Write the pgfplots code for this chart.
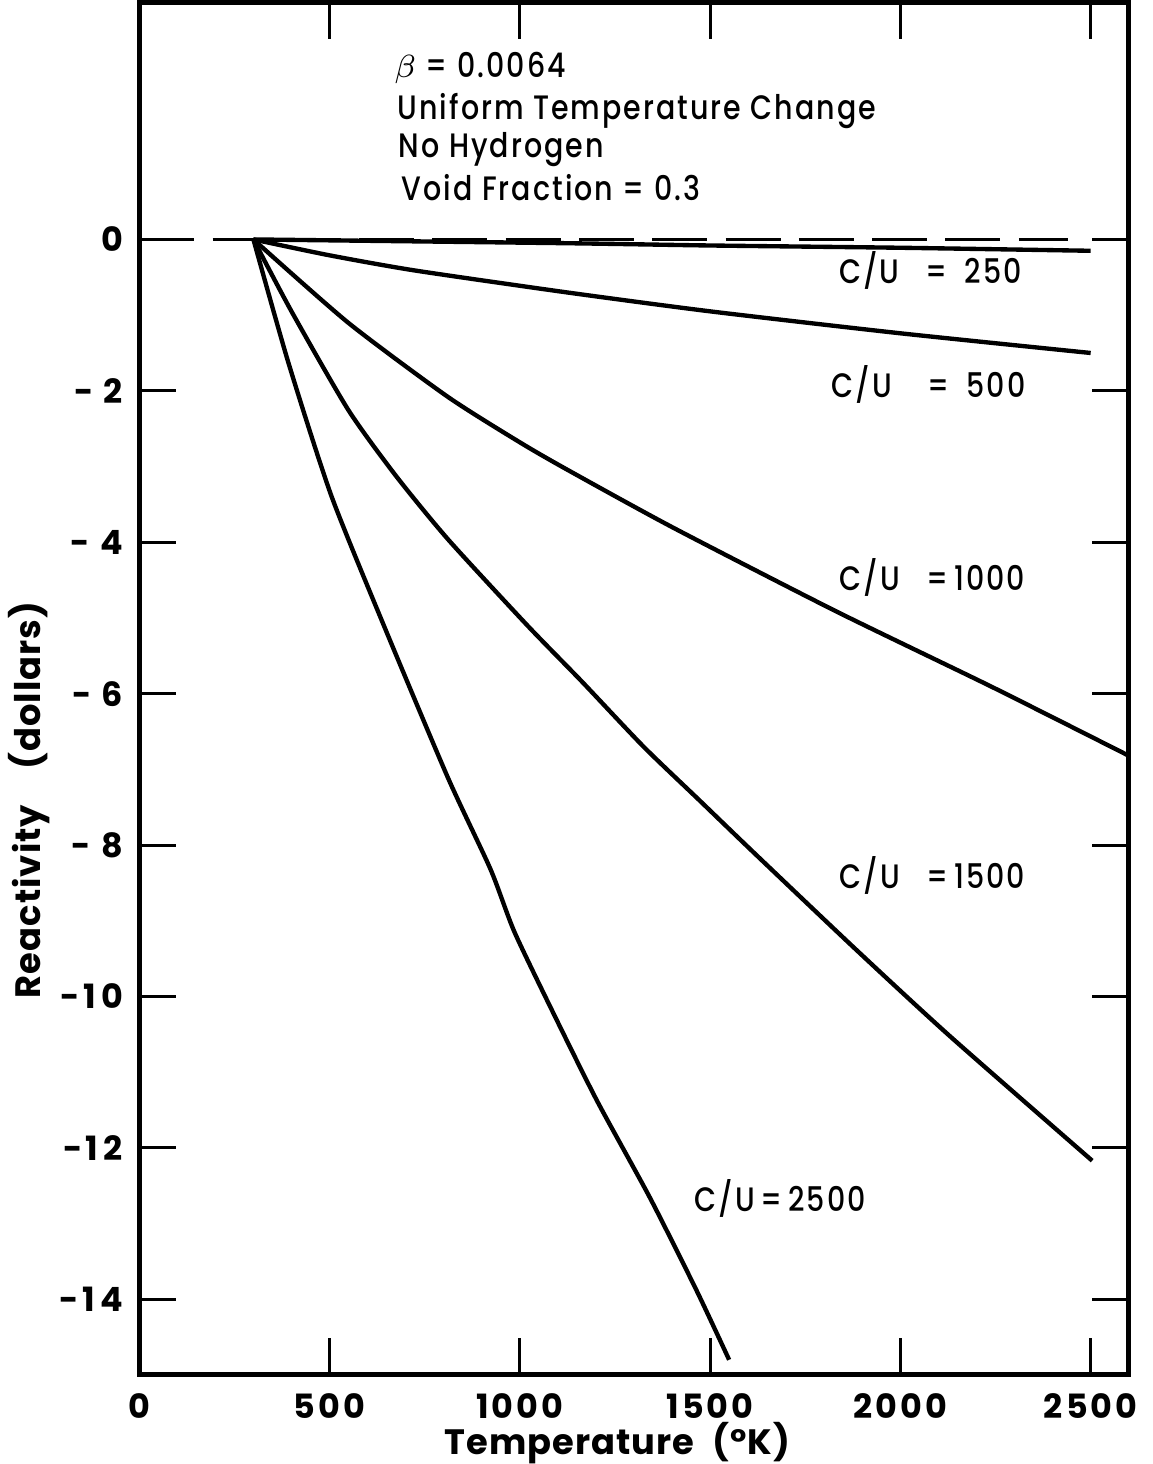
\documentclass[border=0pt]{standalone}
\usepackage{fontspec}
\setmainfont{Poppins}
\newfontfamily\annfont{Poppins Medium}[FakeStretch=0.84,LetterSpace=6]
\newfontfamily\tickfont{Poppins}[LetterSpace=9]
\newfontfamily\labfont{Poppins}[LetterSpace=3]
\usepackage{pgfplots}
\pgfplotsset{compat=1.18}
\tikzset{
  curve/.style={black,line width=0.95pt,mark=none,smooth,tension=0.4},
  lab/.style={font=\annfont\fontsize{7.4}{8}\selectfont,inner sep=0pt},
}

\begin{document}
\begin{tikzpicture}
\begin{axis}[
  scale only axis, width=216pt, height=299.6pt,
  xmin=0, xmax=2600, ymin=-15, ymax=3.13,
  xtick={0,500,...,2500}, ytick={-14,-12,...,0},
  xticklabels={0,500,1000,1500,2000,2500},
  yticklabels={-1\,4,-1\,2,-1\,0,- 8,- 6,- 4,- 2,0},
  tick align=inside, major tick length=8pt,
  tick style={line width=0.65pt,black},
  axis line style={line width=1.1pt},
  ticklabel style={font=\tickfont\fontsize{7.3}{8}\selectfont\bfseries},
  xticklabel style={yshift=-0.5pt},
  label style={font=\labfont\fontsize{7.7}{9}\selectfont\bfseries,inner sep=0pt},
  xlabel={Temperature\enspace(°K)},
  ylabel={Reactivity\quad(dollars)},
  xlabel style={at={(axis description cs:0.483,0)},anchor=base,yshift=-17.4pt},
  ylabel style={at={(axis description cs:-0.111,0.419)},anchor=center},
  clip=false,
]
% reference line at zero
\addplot[black,mark=none,dash pattern=on 12pt off 4pt,line width=0.8pt] coordinates {(0,0) (2440,0)};
% C/U = 250
\addplot[curve] table {
T R
300 0
1124 -0.05
1500 -0.08
2000 -0.11
2500 -0.15
};
% C/U = 500
\addplot[curve] table {
T R
300 0
500 -0.21
724 -0.41
1124 -0.70
1500 -0.95
2000 -1.24
2500 -1.50
};
% C/U = 1000
\addplot[curve] table {
T R
300 0
549 -1.10
811 -2.08
1000 -2.68
1124 -3.04
1400 -3.80
1830 -4.91
2240 -5.91
2600 -6.82
};
% C/U = 1500
\addplot[curve] table {
T R
300 0
400 -0.95
549 -2.25
674 -3.12
811 -3.96
1020 -5.10
1163 -5.84
1325 -6.70
1470 -7.40
1621 -8.13
1881 -9.37
2129 -10.52
2504 -12.17
};
% C/U = 2500
\addplot[curve] table {
T R
300 0
392 -1.63
505 -3.39
646 -5.14
811 -7.11
923 -8.32
986 -9.15
1090 -10.24
1203 -11.38
1342 -12.66
1464 -13.88
1550 -14.80
};
\node[lab,anchor=west] at (axis cs:667,2.26) {$\beta$ = 0.0064};
\node[lab,anchor=west] at (axis cs:677,1.69) {Uniform Temperature Change};
\node[lab,anchor=west] at (axis cs:680,1.19) {No Hydrogen};
\node[lab,anchor=west] at (axis cs:688,0.68) {Void Fraction = 0.3};
\node[lab] at (axis cs:2079,-0.41) {C/U \enspace=\enspace 250};
\node[lab] at (axis cs:2074,-1.92) {C/U \enspace\;=\enspace 500};
\node[lab] at (axis cs:2084,-4.47) {C/U \enspace=\,1000};
\node[lab] at (axis cs:2084,-8.40) {C/U \enspace=\,1500};
\node[lab] at (axis cs:1684,-12.67) {C/U\,=\,2500};
\end{axis}
\path (current axis.south west) ++(-30.4pt,-19pt);
\path (current axis.north east) ++(1.5pt,0pt);
\end{tikzpicture}
\end{document}
